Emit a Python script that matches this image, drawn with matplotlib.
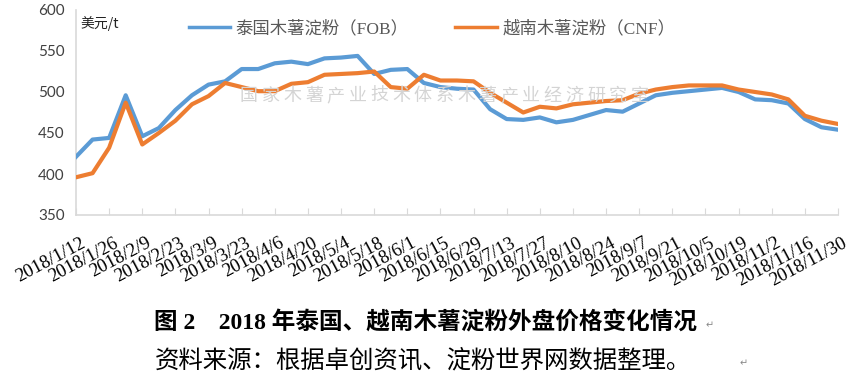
import matplotlib.pyplot as plt
from matplotlib.transforms import ScaledTranslation

# weekly dates 2018/1/12 .. 2018/11/30 (47 weeks)
dates = ['2018/1/12', '2018/1/19', '2018/1/26', '2018/2/2', '2018/2/9', '2018/2/16',
         '2018/2/23', '2018/3/2', '2018/3/9', '2018/3/16', '2018/3/23', '2018/3/30',
         '2018/4/6', '2018/4/13', '2018/4/20', '2018/4/27', '2018/5/4', '2018/5/11',
         '2018/5/18', '2018/5/25', '2018/6/1', '2018/6/8', '2018/6/15', '2018/6/22',
         '2018/6/29', '2018/7/6', '2018/7/13', '2018/7/20', '2018/7/27', '2018/8/3',
         '2018/8/10', '2018/8/17', '2018/8/24', '2018/8/31', '2018/9/7', '2018/9/14',
         '2018/9/21', '2018/9/28', '2018/10/5', '2018/10/12', '2018/10/19', '2018/10/26',
         '2018/11/2', '2018/11/9', '2018/11/16', '2018/11/23', '2018/11/30']

thai_fob = [421, 442, 444, 496, 446, 456, 478, 496, 509, 513, 528, 528,
            535, 537, 534, 541, 542, 544, 522, 527, 528, 511, 506, 504,
            503, 479, 467, 466, 469, 463, 466, 472, 478, 476, 486, 496,
            499, 501, 503, 505, 500, 491, 490, 486, 467, 457, 454]

viet_cnf = [396, 401, 432, 487, 436, 450, 465, 485, 495, 511, 506, 501,
            501, 510, 512, 521, 522, 523, 525, 506, 504, 521, 514, 514,
            513, 499, 487, 475, 482, 480, 485, 487, 489, 490, 498, 503,
            506, 508, 508, 508, 503, 500, 497, 491, 471, 465, 461]

series_names = ['泰国木薯淀粉（FOB）', '越南木薯淀粉（CNF）']
watermark = '国家木薯产业技术体系木薯产业经济研究室'
caption = '图 2    2018 年泰国、越南木薯淀粉外盘价格变化情况'
source = '资料来源：根据卓创资讯、淀粉世界网数据整理。'

plt.rcParams['font.family'] = ['Noto Sans CJK SC', 'DejaVu Sans']

fig = plt.figure(figsize=(8.49, 3.87), dpi=100)
ax = fig.add_axes([76 / 849, 1 - 215 / 387, 762 / 849, 205 / 387])

x = list(range(len(dates)))
ax.plot(x, thai_fob, color='#5B9BD5', lw=3, solid_joinstyle='round',
        label=series_names[0], zorder=3)
ax.plot(x, viet_cnf, color='#ED7D31', lw=3, solid_joinstyle='round',
        label=series_names[1], zorder=3)

ax.set_xlim(0, len(dates) - 1)
ax.set_ylim(350, 600)
ax.set_yticks(range(350, 601, 50))
ax.set_xticks(x[::2])
ax.tick_params(axis='x', direction='in', length=5, color='#d9d9d9', pad=14)
ax.tick_params(axis='y', length=0, pad=8, labelsize=11, labelcolor='#404040')

ax.set_xticklabels(dates[::2], rotation=28, ha='right', va='top',
                   rotation_mode='anchor', fontsize=13.5, fontfamily='Liberation Serif')
shift = ScaledTranslation(4 / 100, 0, fig.dpi_scale_trans)
for lab in ax.get_xticklabels():
    lab.set_transform(lab.get_transform() + shift)
for lab in ax.get_yticklabels():
    lab.set_fontfamily('Lato')

for s in ['top', 'right']:
    ax.spines[s].set_visible(False)
for s in ['left', 'bottom']:
    ax.spines[s].set_color('#d9d9d9')
    ax.spines[s].set_linewidth(1.2)

ax.text(0.006, 0.935, '美元/t', transform=ax.transAxes, fontsize=10, color='#222222',
        ha='left', va='center')

# watermark, evenly spaced characters
for i, ch in enumerate(watermark):
    fig.text((249 + 21.7 * i) / 849, 1 - 96 / 387, ch, fontsize=13, color='#d4d4d4',
             ha='center', va='center', zorder=1)

leg = ax.legend(loc='center', bbox_to_anchor=(0.467, 1 - 19 / 205), ncol=2, frameon=False,
                handlelength=2.4, columnspacing=2.7, handletextpad=0.3,
                prop={'family': ['Liberation Serif', 'Noto Sans CJK SC'], 'size': 12.5},
                labelcolor='#595959')
for h in leg.get_lines():
    h.set_linewidth(2.5)

fig.text(425 / 849, 1 - 323 / 387, caption, fontsize=17, fontweight='bold',
         family=['Liberation Serif', 'Noto Sans CJK SC'], ha='center', va='center')
fig.text(155 / 849, 1 - 360 / 387, source, fontsize=17.6,
         family=['Noto Sans CJK SC'], ha='left', va='center')
fig.text(706 / 849, 1 - 325 / 387, '↵', fontsize=7, color='#888888', family=['DejaVu Sans'],
         ha='left', va='center')
fig.text(740 / 849, 1 - 363 / 387, '↵', fontsize=7, color='#888888', family=['DejaVu Sans'],
         ha='left', va='center')

fig.savefig('out.png', dpi=100)
